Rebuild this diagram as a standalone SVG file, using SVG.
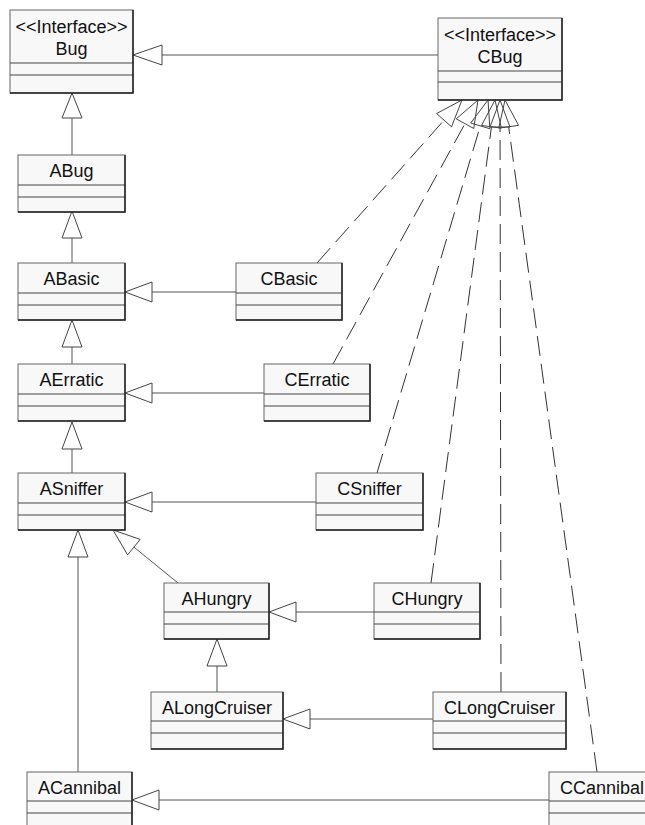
<svg xmlns="http://www.w3.org/2000/svg" width="645" height="825" viewBox="0 0 645 825">
<style>
.box{fill:#f8f8f8;stroke:#666;stroke-width:1}
.sh{fill:none;stroke:#222;stroke-width:1.5}
.dv{stroke:#444;stroke-width:1}
.t{font-family:"Liberation Sans",Arial,sans-serif;font-size:18px;fill:#111;text-anchor:middle}
.ln{fill:none;stroke:#555;stroke-width:1}
.dl{fill:none;stroke:#333;stroke-width:1;stroke-dasharray:20 8}
.tri{fill:#fff;stroke:#444;stroke-width:1}
.trd{fill:none;stroke:#444;stroke-width:1}
</style>
<rect width="645" height="825" fill="#fff"/>
<g id="connectors">
<path class="ln" d="M438,55H162"/><polygon class="tri" points="133,55 162,45 162,65"/>
<path class="ln" d="M72,155V118"/><polygon class="tri" points="72,93 62,118 82,118"/>
<path class="ln" d="M72,263V238"/><polygon class="tri" points="72,211 62,238 82,238"/>
<path class="ln" d="M236,292H152"/><polygon class="tri" points="125,292 152,282 152,302"/>
<path class="ln" d="M72,364V347"/><polygon class="tri" points="72,320 62,347 82,347"/>
<path class="ln" d="M264,393H152"/><polygon class="tri" points="125,393 152,383 152,403"/>
<path class="ln" d="M72,473V449"/><polygon class="tri" points="72,422 62,449 82,449"/>
<path class="ln" d="M316,502H152"/><polygon class="tri" points="125,502 152,492 152,512"/>
<path class="ln" d="M178,583L133.9,547.1"/><polygon class="tri" points="113,530 140.2,539.4 127.6,554.9"/>
<path class="ln" d="M374,612H296"/><polygon class="tri" points="269,612 296,602 296,622"/>
<path class="ln" d="M217,692V666"/><polygon class="tri" points="217,639 207,666 227,666"/>
<path class="ln" d="M433,719H310"/><polygon class="tri" points="283,719 310,709 310,729"/>
<path class="ln" d="M78,772V557"/><polygon class="tri" points="78,530 68,557 88,557"/>
<path class="ln" d="M549,800H159"/><polygon class="tri" points="132,800 159,790 159,810"/>
<path class="dl" d="M317,263L444.06,120.17"/>
<path class="dl" d="M333,364L465,123.67"/>
<path class="dl" d="M377,473L480.3,125.88"/>
<path class="dl" d="M431,583L491.45,126.77"/>
<path class="dl" d="M501,692L500.05,127"/>
<path class="dl" d="M597,772L508.66,126.75"/>
<polygon class="trd" points="462,100 451.53,126.82 436.59,113.52"/>
<polygon class="trd" points="478,100 473.77,128.48 456.23,118.86"/>
<polygon class="trd" points="488,100 489.88,128.73 470.72,123.03"/>
<polygon class="trd" points="495,100 501.36,128.08 481.54,125.46"/>
<polygon class="trd" points="500,100 510,127 490,127"/>
<polygon class="trd" points="505,100 518.57,125.39 498.75,128.11"/>
</g>
<g id="Bug">
<rect class="box" x="10" y="10" width="123" height="83"/>
<path class="dv" d="M10,63H133M10,75H133"/>
<path class="sh" d="M133,10V93H10"/>
<text class="t" x="71.5" y="33">&lt;&lt;Interface&gt;&gt;</text>
<text class="t" x="71.5" y="55">Bug</text>
</g>
<g id="CBug">
<rect class="box" x="438" y="18" width="124" height="82"/>
<path class="dv" d="M438,71H562M438,82H562"/>
<path class="sh" d="M562,18V100H438"/>
<text class="t" x="500" y="41">&lt;&lt;Interface&gt;&gt;</text>
<text class="t" x="500" y="63">CBug</text>
</g>
<g id="ABug">
<rect class="box" x="18" y="155" width="107" height="57"/>
<path class="dv" d="M18,185H125M18,197H125"/>
<path class="sh" d="M125,155V212H18"/>
<text class="t" x="71.5" y="177">ABug</text>
</g>
<g id="ABasic">
<rect class="box" x="18" y="263" width="107" height="57"/>
<path class="dv" d="M18,293H125M18,305H125"/>
<path class="sh" d="M125,263V320H18"/>
<text class="t" x="71.5" y="285">ABasic</text>
</g>
<g id="CBasic">
<rect class="box" x="236" y="263" width="106" height="57"/>
<path class="dv" d="M236,293H342M236,305H342"/>
<path class="sh" d="M342,263V320H236"/>
<text class="t" x="289" y="285">CBasic</text>
</g>
<g id="AErratic">
<rect class="box" x="18" y="364" width="107" height="57"/>
<path class="dv" d="M18,394H125M18,406H125"/>
<path class="sh" d="M125,364V421H18"/>
<text class="t" x="71.5" y="386">AErratic</text>
</g>
<g id="CErratic">
<rect class="box" x="264" y="364" width="106" height="57"/>
<path class="dv" d="M264,394H370M264,406H370"/>
<path class="sh" d="M370,364V421H264"/>
<text class="t" x="317" y="386">CErratic</text>
</g>
<g id="ASniffer">
<rect class="box" x="18" y="473" width="107" height="57"/>
<path class="dv" d="M18,503H125M18,515H125"/>
<path class="sh" d="M125,473V530H18"/>
<text class="t" x="71.5" y="495">ASniffer</text>
</g>
<g id="CSniffer">
<rect class="box" x="316" y="473" width="107" height="57"/>
<path class="dv" d="M316,503H423M316,515H423"/>
<path class="sh" d="M423,473V530H316"/>
<text class="t" x="369.5" y="495">CSniffer</text>
</g>
<g id="AHungry">
<rect class="box" x="164" y="583" width="105" height="56"/>
<path class="dv" d="M164,612H269M164,624H269"/>
<path class="sh" d="M269,583V639H164"/>
<text class="t" x="216.5" y="605">AHungry</text>
</g>
<g id="CHungry">
<rect class="box" x="374" y="583" width="106" height="56"/>
<path class="dv" d="M374,612H480M374,624H480"/>
<path class="sh" d="M480,583V639H374"/>
<text class="t" x="427" y="605">CHungry</text>
</g>
<g id="ALongCruiser">
<rect class="box" x="151" y="692" width="132" height="57"/>
<path class="dv" d="M151,721H283M151,733H283"/>
<path class="sh" d="M283,692V749H151"/>
<text class="t" x="217" y="714">ALongCruiser</text>
</g>
<g id="CLongCruiser">
<rect class="box" x="433" y="692" width="133" height="57"/>
<path class="dv" d="M433,721H566M433,733H566"/>
<path class="sh" d="M566,692V749H433"/>
<text class="t" x="499.5" y="714">CLongCruiser</text>
</g>
<g id="ACannibal">
<rect class="box" x="27" y="772" width="105" height="57"/>
<path class="dv" d="M27,801H132M27,813H132"/>
<path class="sh" d="M132,772V829H27"/>
<text class="t" x="79.5" y="794">ACannibal</text>
</g>
<g id="CCannibal">
<rect class="box" x="549" y="772" width="106" height="57"/>
<path class="dv" d="M549,801H655M549,813H655"/>
<path class="sh" d="M655,772V829H549"/>
<text class="t" x="602" y="794">CCannibal</text>
</g>
</svg>
